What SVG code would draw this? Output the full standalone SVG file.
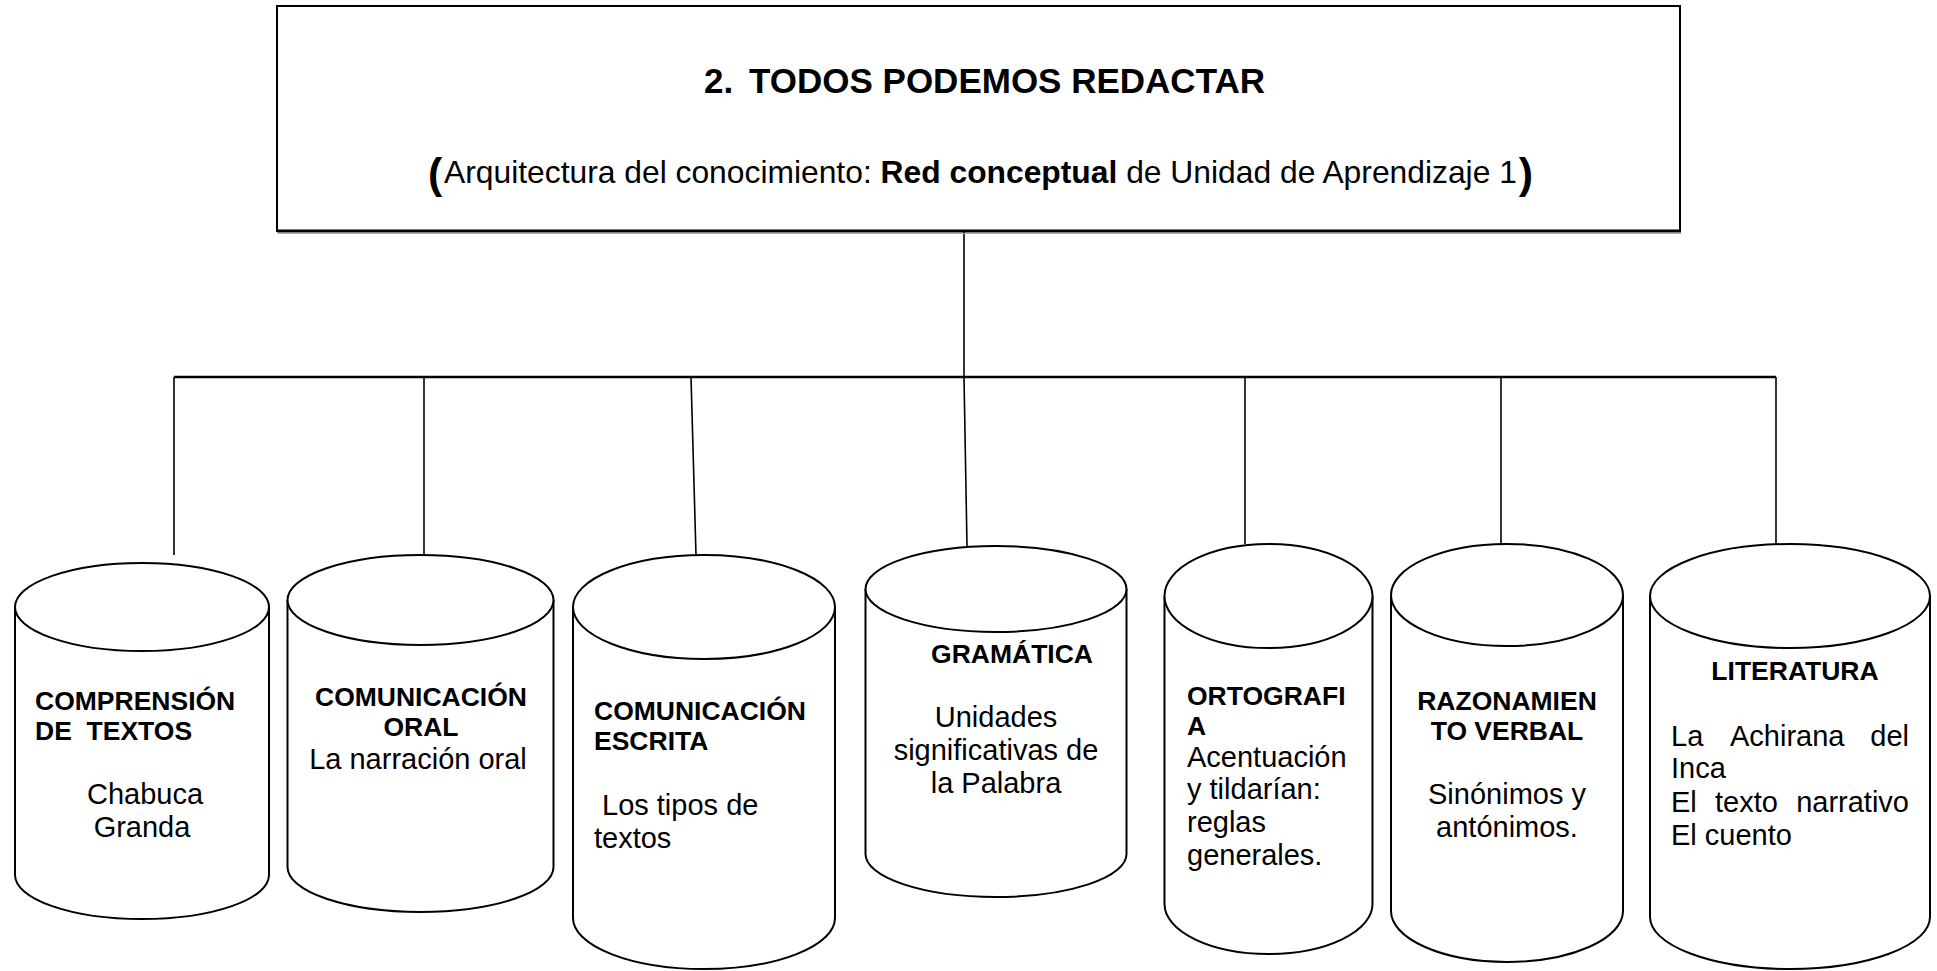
<svg xmlns="http://www.w3.org/2000/svg" width="1937" height="971" viewBox="0 0 1937 971">
<style>
text{font-family:"Liberation Sans",Arial,sans-serif;fill:#000}
.h{font-weight:bold;font-size:26.5px}
.b{font-size:29px}
.m{text-anchor:middle}
.e{text-anchor:end}
.cyl{fill:#fff;stroke:#000;stroke-width:2}
.ln{stroke:#000;stroke-width:1.6;fill:none}
</style>
<rect width="1937" height="971" fill="#fff"/>
<g id="connectors">
<line class="ln" x1="964" y1="231" x2="964" y2="377"/>
<line x1="174" y1="377" x2="1776" y2="377" stroke="#000" stroke-width="2.6"/>
<line class="ln" x1="174" y1="377" x2="174" y2="555"/>
<line class="ln" x1="424" y1="377" x2="424" y2="555"/>
<line class="ln" x1="691" y1="377" x2="696" y2="555"/>
<line class="ln" x1="964" y1="377" x2="967" y2="546"/>
<line class="ln" x1="1245" y1="377" x2="1245" y2="544"/>
<line class="ln" x1="1501" y1="377" x2="1501" y2="544"/>
<line class="ln" x1="1776" y1="377" x2="1776" y2="544"/>
</g>
<g id="title">
<rect x="277" y="6" width="1403" height="225" fill="#fff" stroke="#000" stroke-width="2"/>
<line x1="277" y1="231" x2="1681" y2="231" stroke="#000" stroke-width="3"/>
<line x1="278" y1="233.5" x2="1681" y2="233.5" stroke="#aaa" stroke-width="1"/>
<text x="704" y="93" font-size="35" font-weight="bold">2.</text>
<text x="749" y="93" font-size="35" font-weight="bold">TODOS PODEMOS REDACTAR</text>
<text y="183" font-size="31.8"><tspan x="428" y="188" font-size="43" font-weight="bold">(</tspan><tspan x="444" y="183">Arquitectura del conocimiento: </tspan><tspan font-weight="bold">Red conceptual</tspan><tspan> de Unidad de Aprendizaje 1</tspan><tspan dx="2" y="188" font-size="43" font-weight="bold">)</tspan></text>
</g>
<g id="n1">
<path class="cyl" d="M15,607 L15,875 A127,44 0 0 0 269,875 L269,607"/>
<ellipse class="cyl" cx="142" cy="607" rx="127" ry="44"/>
<text class="h" x="35" y="710">COMPRENSIÓN</text>
<text class="h" x="35" y="740" xml:space="preserve">DE  TEXTOS</text>
<text class="b m" x="145" y="804">Chabuca</text>
<text class="b m" x="142" y="837">Granda</text>
</g>
<g id="n2">
<path class="cyl" d="M287.5,600 L287.5,867 A133,45 0 0 0 553.5,867 L553.5,600"/>
<ellipse class="cyl" cx="420.5" cy="600" rx="133" ry="45"/>
<text class="h m" x="421" y="706">COMUNICACIÓN</text>
<text class="h m" x="421" y="736">ORAL</text>
<text class="b m" x="418" y="769">La narración oral</text>
</g>
<g id="n3">
<path class="cyl" d="M573,607 L573,918 A131,51 0 0 0 835,918 L835,607"/>
<ellipse class="cyl" cx="704" cy="607" rx="131" ry="52"/>
<text class="h" x="594" y="720">COMUNICACIÓN</text>
<text class="h" x="594" y="750">ESCRITA</text>
<text class="b" x="602" y="815">Los tipos de</text>
<text class="b" x="594" y="848">textos</text>
</g>
<g id="n4">
<path class="cyl" d="M865.5,589 L865.5,854 A130.5,43 0 0 0 1126.5,854 L1126.5,589"/>
<ellipse class="cyl" cx="996" cy="589" rx="130.5" ry="43"/>
<text class="h m" x="1012" y="663">GRAMÁTICA</text>
<text class="b m" x="996" y="727">Unidades</text>
<text class="b m" x="996" y="760">significativas de</text>
<text class="b m" x="996" y="793">la Palabra</text>
</g>
<g id="n5">
<path class="cyl" d="M1164.5,596 L1164.5,904 A104,50 0 0 0 1372.5,904 L1372.5,596"/>
<ellipse class="cyl" cx="1268.5" cy="596" rx="104" ry="52"/>
<text class="h" x="1187" y="705">ORTOGRAFI</text>
<text class="h" x="1187" y="735">A</text>
<text class="b" x="1187" y="767">Acentuación</text>
<text class="b" x="1187" y="799">y tildarían:</text>
<text class="b" x="1187" y="832">reglas</text>
<text class="b" x="1187" y="865">generales.</text>
</g>
<g id="n6">
<path class="cyl" d="M1391,595 L1391,911 A116,51 0 0 0 1623,911 L1623,595"/>
<ellipse class="cyl" cx="1507" cy="595" rx="116" ry="51"/>
<text class="h m" x="1507" y="710">RAZONAMIEN</text>
<text class="h m" x="1507" y="740">TO VERBAL</text>
<text class="b m" x="1507" y="804">Sinónimos y</text>
<text class="b m" x="1507" y="837">antónimos.</text>
</g>
<g id="n7">
<path class="cyl" d="M1650,596 L1650,917 A140,52 0 0 0 1930,917 L1930,596"/>
<ellipse class="cyl" cx="1790" cy="596" rx="140" ry="52"/>
<text class="h m" x="1795" y="680">LITERATURA</text>
<text class="b" x="1671" y="746">La</text>
<text class="b" x="1730" y="746">Achirana</text>
<text class="b e" x="1909" y="746">del</text>
<text class="b" x="1671" y="778">Inca</text>
<text class="b" x="1671" y="812">El</text>
<text class="b" x="1715" y="812">texto</text>
<text class="b e" x="1909" y="812">narrativo</text>
<text class="b" x="1671" y="845">El cuento</text>
</g>
</svg>
